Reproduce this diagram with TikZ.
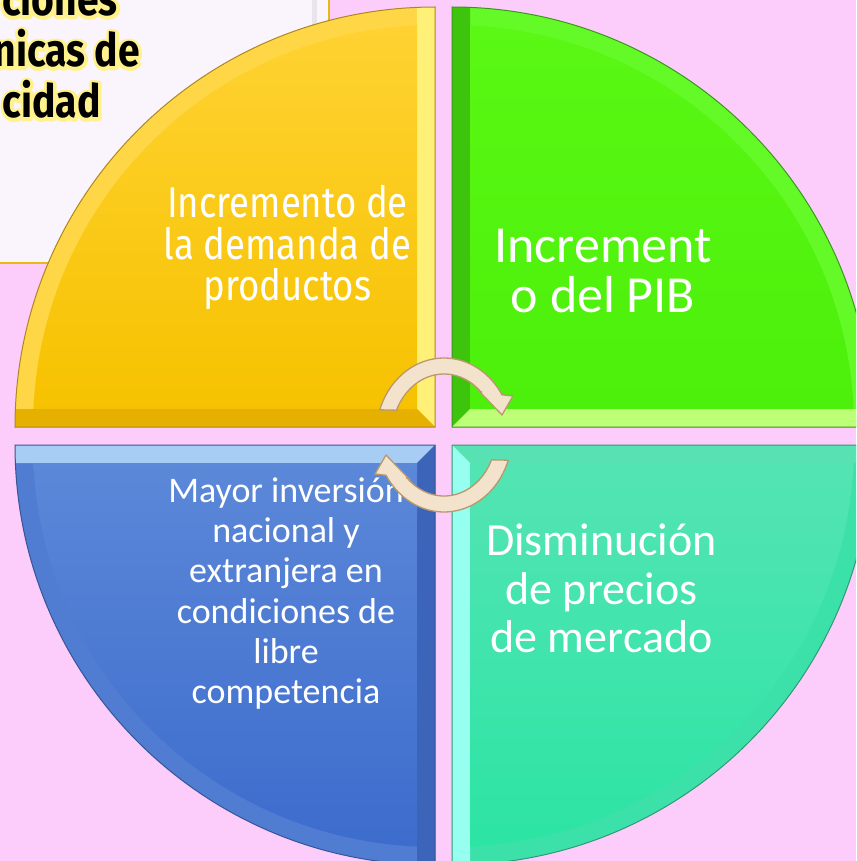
\documentclass[tikz,border=0pt]{standalone}
\usepackage{fontspec}
\usetikzlibrary{calc}
\newfontfamily\calib{Carlito}
\newfontfamily\din[FakeStretch=0.85]{Fira Sans}
\definecolor{bgpink}{RGB}{252,205,250}
\definecolor{boxfill}{RGB}{250,245,252}
\definecolor{boxedge}{RGB}{232,184,20}
\definecolor{boxshadow}{RGB}{232,228,236}
\definecolor{glow}{RGB}{255,242,140}
% yellow
\definecolor{yarc}{RGB}{255,214,70}
\definecolor{yright}{RGB}{255,240,120}
\definecolor{ybot}{RGB}{230,176,0}
\definecolor{ytop}{RGB}{255,210,50}
\definecolor{ybottom}{RGB}{246,194,0}
\definecolor{yedge}{RGB}{176,135,30}
% green
\definecolor{garc}{RGB}{100,250,40}
\definecolor{gleft}{RGB}{62,196,12}
\definecolor{gbot}{RGB}{190,255,120}
\definecolor{gtop}{RGB}{90,248,20}
\definecolor{gbottom}{RGB}{76,240,10}
\definecolor{gedge}{RGB}{60,150,30}
% blue
\definecolor{barc}{RGB}{80,125,210}
\definecolor{btop}{RGB}{168,205,245}
\definecolor{bright}{RGB}{60,100,185}
\definecolor{bmtop}{RGB}{92,136,216}
\definecolor{bmbottom}{RGB}{60,108,205}
\definecolor{bedge}{RGB}{55,85,150}
% teal
\definecolor{tarc}{RGB}{60,225,170}
\definecolor{tleft}{RGB}{150,255,240}
\definecolor{ttop}{RGB}{88,226,180}
\definecolor{tmtop}{RGB}{84,228,180}
\definecolor{tmbottom}{RGB}{44,228,164}
\definecolor{tedge}{RGB}{55,150,120}
% arrows
\definecolor{arrowfill}{RGB}{243,226,204}
\definecolor{arrowedge}{RGB}{185,152,110}
\newcommand\glowtxt[1]{\makebox[0pt][l]{\color{glow}\special{pdf:literal direct 2 Tr 6.5 w 1 j}#1\special{pdf:literal direct 0 Tr 1 w 0 j}}#1}
\tikzset{
  boxtxt/.style={anchor=base east, inner sep=0pt, font=\din\bfseries\fontsize{46}{46}\selectfont},
  ytxt/.style={anchor=base, inner sep=0pt, text=white, font=\din\fontsize{43}{42}\selectfont},
  gtxt/.style={anchor=base, inner sep=0pt, text=white, font=\calib\fontsize{52}{50}\selectfont},
  ttxt/.style={anchor=base, inner sep=0pt, text=white, font=\calib\fontsize{46}{48}\selectfont},
  btxt/.style={anchor=base, inner sep=0pt, text=white, font=\calib\fontsize{36}{40}\selectfont},
  arrowshape/.style={fill=arrowfill, draw=arrowedge, line width=1.3pt, line join=round}
}
\begin{document}
\begin{tikzpicture}[x=1pt,y=-1pt]
\useasboundingbox (0,0) rectangle (856,861);
\fill[bgpink] (0,0) rectangle (856,861);
\clip (0,0) rectangle (856,861);

% title box
\draw[fill=boxfill, draw=boxedge, line width=2pt] (-10,-10) rectangle (329,263);
\fill[boxshadow] (311.5,0) rectangle (316.5,262);
\node[boxtxt] (box1) at (118,16) {\glowtxt{ciones}};
\node[boxtxt] (box2) at (140,67) {\glowtxt{nicas de}};
\node[boxtxt] (box3) at (101,118) {\glowtxt{cidad}};

% yellow quadrant
\begin{scope}
\clip (435,427) -- (435,7) arc[start angle=90,end angle=180,radius=420pt] -- cycle;
\fill[yarc] (0,0) rectangle (440,440);
\fill[yright] (435,427) -- (417,409) -- (417,0) -- (435,0) -- cycle;
\fill[ybot] (435,427) -- (417,409) -- (0,409) -- (0,427) -- cycle;
\shade[top color=ytop, bottom color=ybottom] (417,409) -- (417,25.4) arc[start angle=92.57,end angle=177.43,radius=402pt] -- cycle;
\end{scope}
\draw[yedge, line width=1pt] (435,427) -- (435,7) arc[start angle=90,end angle=180,radius=420pt] -- cycle;

% green quadrant
\begin{scope}
\clip (452,427) -- (872,427) arc[start angle=0,end angle=90,radius=420pt] -- cycle;
\fill[garc] (440,0) rectangle (900,440);
\fill[gleft] (452,427) -- (470,409) -- (470,0) -- (452,0) -- cycle;
\fill[gbot] (452,427) -- (470,409) -- (900,409) -- (900,427) -- cycle;
\shade[top color=gtop, bottom color=gbottom] (470,409) -- (853.6,409) arc[start angle=2.57,end angle=87.43,radius=402pt] -- cycle;
\end{scope}
\draw[gedge, line width=1pt] (452,427) -- (872,427) arc[start angle=0,end angle=90,radius=420pt] -- cycle;

% blue quadrant
\begin{scope}
\clip (435,445) -- (15,445) arc[start angle=180,end angle=270,radius=420pt] -- cycle;
\fill[barc] (0,440) rectangle (440,900);
\fill[btop] (435,445) -- (417,463) -- (0,463) -- (0,445) -- cycle;
\fill[bright] (435,445) -- (417,463) -- (417,900) -- (435,900) -- cycle;
\shade[top color=bmtop, bottom color=bmbottom] (417,463) -- (33.4,463) arc[start angle=182.57,end angle=267.43,radius=402pt] -- cycle;
\end{scope}
\draw[bedge, line width=1pt] (435,445) -- (15,445) arc[start angle=180,end angle=270,radius=420pt] -- cycle;

% teal quadrant
\begin{scope}
\clip (452,445) -- (452,865) arc[start angle=270,end angle=360,radius=420pt] -- cycle;
\fill[tarc] (440,440) rectangle (900,900);
\fill[ttop] (452,445) -- (470,463) -- (900,463) -- (900,445) -- cycle;
\fill[tleft] (452,445) -- (470,463) -- (470,900) -- (452,900) -- cycle;
\shade[top color=tmtop, bottom color=tmbottom] (470,463) -- (470,846.6) arc[start angle=272.57,end angle=357.43,radius=402pt] -- cycle;
\end{scope}
\draw[tedge, line width=1pt] (452,445) -- (452,865) arc[start angle=270,end angle=360,radius=420pt] -- cycle;

% texts
\node[ytxt] (y1) at (287.5,217) {Incremento de};
\node[ytxt] (y2) at (287.5,259) {la demanda de};
\node[ytxt] (y3) at (287.5,300) {productos};

\node[gtxt] (g1) at (603,262) {Increment};
\node[gtxt] (g2) at (603,312) {o del PIB};

\node[ttxt] (t1) at (601.5,555) {Disminución};
\node[ttxt] (t2) at (601.5,604.5) {de precios};
\node[ttxt] (t3) at (601.5,652) {de mercado};

\node[btxt] (b1) at (286,502) {Mayor inversión};
\node[btxt] (b2) at (286,542) {nacional y};
\node[btxt] (b3) at (286,582) {extranjera en};
\node[btxt] (b4) at (286,623) {condiciones de};
\node[btxt] (b5) at (286,663) {libre};
\node[btxt] (b6) at (286,703) {competencia};

% circular arrows
\foreach \rot in {0,180}{
\begin{scope}[rotate around={\rot:(444,435)}]
\path[arrowshape] plot[domain=160.9:31.5, variable=\t, samples=40] ({444+68*cos(\t)},{435-77*sin(\t)})
  -- (513,396) -- (502,415) -- (478,390) -- (481.5,392)
  -- plot[domain=44.4:156, variable=\t, samples=40] ({444+52*cos(\t)},{435-61*sin(\t)}) -- cycle;
\end{scope}
}
\end{tikzpicture}
\end{document}
